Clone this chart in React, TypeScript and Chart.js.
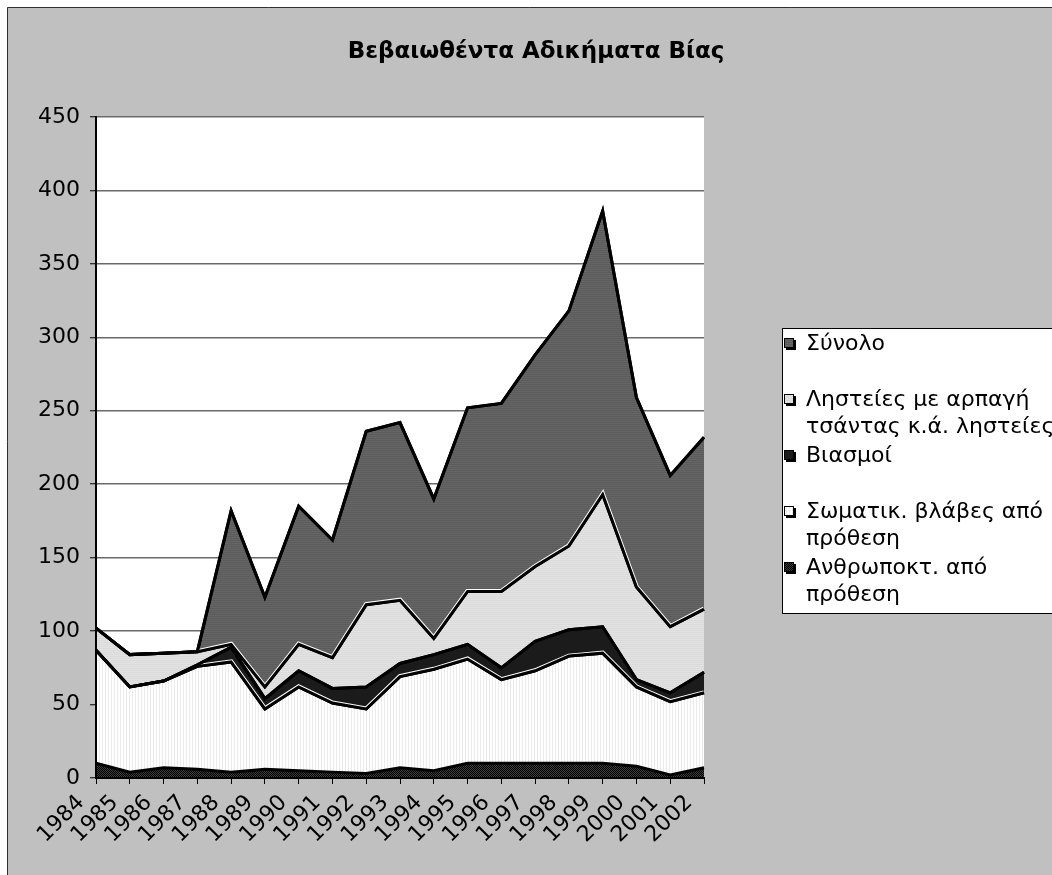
import React, { useEffect, useRef } from 'react';
import { Chart, registerables } from 'chart.js';

Chart.register(...registerables);

const TITLE = 'Βεβαιωθέντα Αδικήματα Βίας';

const years = ['1984', '1985', '1986', '1987', '1988', '1989', '1990', '1991', '1992', '1993',
  '1994', '1995', '1996', '1997', '1998', '1999', '2000', '2001', '2002'];

const homicide = [10, 4, 7, 6, 4, 6, 5, 4, 3, 7, 5, 10, 10, 10, 10, 10, 8, 2, 7];
const bodilyHarm = [77, 58, 59, 70, 75, 41, 57, 47, 44, 62, 69, 71, 57, 63, 73, 75, 54, 50, 51];
const rapes = [0, 0, 0, 1, 10, 7, 11, 10, 15, 9, 10, 10, 8, 20, 18, 18, 5, 6, 14];
const robberies = [15, 22, 19, 9, 2, 8, 18, 21, 56, 43, 11, 36, 52, 51, 57, 90, 63, 45, 43];
const totals = [0, 0, 0, 0, 91, 61, 94, 80, 118, 121, 95, 125, 128, 144, 160, 193, 129, 103, 117];

const seriesLabels = [
  'Ανθρωποκτ. από πρόθεση',
  'Σωματικ. βλάβες από πρόθεση',
  'Βιασμοί',
  'Ληστείες με αρπαγή τσάντας κ.ά. ληστείες',
  'Σύνολο',
];
const legendLines = [
  ['Ανθρωποκτ. από', 'πρόθεση'],
  ['Σωματικ. βλάβες από', 'πρόθεση'],
  ['Βιασμοί'],
  ['Ληστείες με αρπαγή', 'τσάντας κ.ά. ληστείες'],
  ['Σύνολο'],
];

const Y_MIN = 0;
const Y_MAX = 450;
const Y_STEP = 50;

const FONT = '"DejaVu Sans", Verdana, sans-serif';

function makePattern(ctx: CanvasRenderingContext2D, w: number, h: number, draw: (g: CanvasRenderingContext2D) => void) {
  const c = document.createElement('canvas');
  c.width = w;
  c.height = h;
  const g = c.getContext('2d')!;
  draw(g);
  return ctx.createPattern(c, 'repeat')!;
}

export default function App() {
  const ref = useRef<HTMLCanvasElement | null>(null);

  useEffect(() => {
    const canvas = ref.current!;
    const ctx = canvas.getContext('2d')!;

    const pHomicide = makePattern(ctx, 2, 2, (g) => {
      g.fillStyle = '#3c3c3c'; g.fillRect(0, 0, 2, 2);
      g.fillStyle = '#000'; g.fillRect(0, 0, 1, 1); g.fillRect(1, 1, 1, 1);
    });
    const pHarm = makePattern(ctx, 3, 1, (g) => {
      g.fillStyle = '#ffffff'; g.fillRect(0, 0, 3, 1);
      g.fillStyle = '#ebebeb'; g.fillRect(0, 0, 1, 1);
    });
    const pRobbery = makePattern(ctx, 1, 2, (g) => {
      g.fillStyle = '#e2e2e2'; g.fillRect(0, 0, 1, 2);
      g.fillStyle = '#dbdbdb'; g.fillRect(0, 0, 1, 1);
    });
    const pTotal = makePattern(ctx, 1, 2, (g) => {
      g.fillStyle = '#656565'; g.fillRect(0, 0, 1, 2);
      g.fillStyle = '#5c5c5c'; g.fillRect(0, 0, 1, 1);
    });
    const fills = [pHomicide, pHarm, '#1b1b1b', pRobbery, pTotal];
    const series = [homicide, bodilyHarm, rapes, robberies, totals];
    const LINE_W = 3;

    // white inner highlight along the lower edge of the dark areas
    const highlight = {
      id: 'highlight',
      afterDatasetsDraw(chart: any) {
        const c: CanvasRenderingContext2D = chart.ctx;
        const a = chart.chartArea;
        [2, 4].forEach((i) => {
          const top = chart.getDatasetMeta(i).data;
          const bot = chart.getDatasetMeta(i - 1).data;
          c.save();
          c.beginPath();
          c.rect(a.left, a.top, a.right - a.left, a.bottom - a.top);
          c.clip();
          c.beginPath();
          top.forEach((p: any, j: number) => (j ? c.lineTo(p.x, p.y) : c.moveTo(p.x, p.y)));
          for (let j = bot.length - 1; j >= 0; j--) c.lineTo(bot[j].x, bot[j].y);
          c.closePath();
          c.clip();
          c.strokeStyle = '#ffffff';
          c.lineWidth = LINE_W + 2;
          c.lineJoin = 'miter';
          c.beginPath();
          bot.forEach((p: any, j: number) => (j ? c.lineTo(p.x, p.y) : c.moveTo(p.x, p.y)));
          c.stroke();
          c.restore();
          c.save();
          c.strokeStyle = '#000';
          c.lineWidth = LINE_W;
          c.beginPath();
          bot.forEach((p: any, j: number) => (j ? c.lineTo(p.x, p.y) : c.moveTo(p.x, p.y)));
          c.stroke();
          c.beginPath();
          top.forEach((p: any, j: number) => (j ? c.lineTo(p.x, p.y) : c.moveTo(p.x, p.y)));
          c.stroke();
          c.restore();
        });
      },
    };

    const decor = {
      id: 'decor',
      beforeDraw(chart: any) {
        const { ctx: c, width, height, chartArea: a } = chart;
        c.save();
        c.fillStyle = '#ffffff';
        c.fillRect(0, 0, width, height);
        c.fillStyle = '#c0c0c0';
        c.fillRect(7, 7, width - 7, height - 7);
        c.strokeStyle = '#303030';
        c.lineWidth = 1;
        c.beginPath();
        c.moveTo(7.5, height);
        c.lineTo(7.5, 7.5);
        c.lineTo(width, 7.5);
        c.stroke();
        c.fillStyle = '#ffffff';
        c.fillRect(a.left, a.top, a.right - a.left, a.bottom - a.top);
        c.restore();
      },
      afterDraw(chart: any) {
        const { ctx: c, width } = chart;
        c.save();
        // title
        c.fillStyle = '#000';
        c.font = 'bold 23px ' + FONT;
        c.textAlign = 'center';
        c.textBaseline = 'middle';
        c.fillText(TITLE, 536, 52);
        // legend
        const lx = 782, ly = 328, lb = 613;
        c.fillStyle = '#ffffff';
        c.fillRect(lx, ly, width - lx + 5, lb - ly);
        c.strokeStyle = '#000';
        c.lineWidth = 1;
        c.strokeRect(lx + 0.5, ly + 0.5, width, lb - ly);
        c.font = '22px ' + FONT;
        c.textAlign = 'left';
        const ds = chart.data.datasets;
        let row = 0;
        for (let i = ds.length - 1; i >= 0; i--) {
          const y = 344 + row * 56;
          c.fillStyle = '#000';
          c.fillRect(786, y - 4, 10, 10);
          c.fillStyle = ds[i].backgroundColor;
          c.fillRect(784, y - 6, 10, 10);
          c.strokeStyle = '#000';
          c.lineWidth = 1;
          c.strokeRect(784.5, y - 5.5, 9, 9);
          c.fillStyle = '#000';
          legendLines[i].forEach((t, k) => c.fillText(t, 806, y + k * 27));
          row++;
        }
        c.restore();
      },
    };

    const chart = new Chart(canvas, {
      type: 'line',
      data: {
        labels: years,
        datasets: series.map((d, i) => ({
          label: seriesLabels[i],
          data: d,
          backgroundColor: fills[i] as any,
          borderColor: '#000',
          borderWidth: LINE_W,
          pointRadius: 0,
          pointHoverRadius: 0,
          tension: 0,
          fill: i === 0 ? 'origin' : '-1',
        })),
      },
      options: {
        animation: false,
        responsive: false,
        devicePixelRatio: 1,
        events: [],
        layout: { padding: { left: 0, top: 117, right: 348, bottom: 0 } },
        plugins: {
          legend: { display: false },
          title: { display: false },
          tooltip: { enabled: false },
        },
        scales: {
          x: {
            offset: false,
            grid: { display: true, drawOnChartArea: false, drawTicks: true, tickLength: 6, color: '#000', lineWidth: 1 },
            border: { display: true, color: '#000', width: 2, z: 1 },
            ticks: {
              autoSkip: false,
              maxRotation: 45,
              minRotation: 45,
              padding: 6,
              labelOffset: -15,
              color: '#000',
              font: { family: FONT, size: 22 },
            },
            afterFit(s: any) { s.height = 97; },
          },
          y: {
            stacked: true,
            min: Y_MIN,
            max: Y_MAX,
            grid: { color: '#6a6a6a', lineWidth: 1.5, tickLength: 6, tickColor: '#000', tickWidth: 1 },
            border: { display: true, color: '#000', width: 2, z: 1 },
            ticks: {
              stepSize: Y_STEP,
              padding: 10,
              color: '#000',
              font: { family: FONT, size: 22 },
            },
            afterFit(s: any) { s.width = 96; },
          },
        },
      },
      plugins: [decor, highlight],
    });

    return () => chart.destroy();
  }, []);

  return (
    <div style={{ position: 'absolute', left: 0, top: 0, width: 1052, height: 875 }}>
      <canvas ref={ref} width={1052} height={875} style={{ display: 'block', width: 1052, height: 875 }} />
    </div>
  );
}
